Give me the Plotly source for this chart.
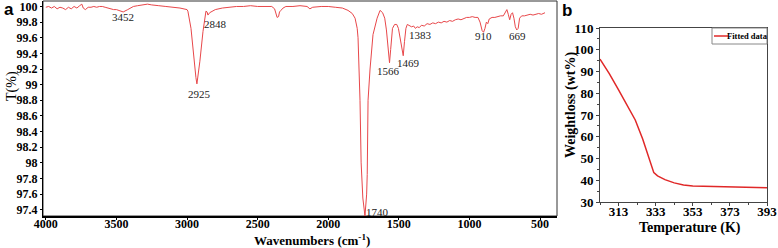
import plotly.graph_objects as go

# ---------------- Panel a: FTIR spectrum ----------------
wavenumber = [4000, 3980, 3960, 3940, 3920, 3900, 3880, 3860, 3840, 3820, 3800, 3780, 3760, 3745, 3735,
              3720, 3700, 3680, 3660, 3640, 3620, 3600, 3580, 3560, 3540, 3520, 3500, 3480, 3452, 3420,
              3400, 3380, 3350, 3320, 3300, 3280, 3250, 3220, 3200, 3150, 3100, 3050, 3000, 2994, 2972,
              2958, 2937, 2930, 2920, 2909, 2887, 2866, 2858, 2852, 2840, 2823, 2800, 2750, 2700, 2650,
              2600, 2550, 2500, 2450, 2400, 2380, 2368, 2362, 2352, 2345, 2335, 2320, 2300, 2250, 2200,
              2150, 2130, 2110, 2050, 2000, 1950, 1900, 1860, 1830, 1810, 1795, 1789, 1782, 1775, 1767,
              1755, 1740, 1728, 1724, 1718, 1704, 1683, 1654, 1633, 1615, 1600, 1588, 1576, 1566, 1558,
              1545, 1530, 1515, 1503, 1490, 1478, 1469, 1460, 1450, 1440, 1425, 1410, 1395, 1383, 1370,
              1355, 1340, 1320, 1300, 1280, 1260, 1240, 1220, 1200, 1180, 1160, 1140, 1120, 1100, 1080,
              1060, 1040, 1020, 1000, 980, 960, 940, 925, 910, 900, 890, 880, 870, 860, 840,
              820, 800, 780, 760, 745, 735, 725, 715, 705, 695, 685, 675, 665, 655, 645,
              630, 610, 590, 570, 550, 530, 510, 490, 465]
transmittance = [99.99, 100.00, 99.98, 100.00, 99.97, 99.99, 99.98, 99.96, 99.99, 99.97, 100.00, 99.98, 100.01, 100.03, 99.98,
                 99.96, 99.99, 99.99, 100.00, 99.99, 100.00, 100.00, 99.99, 99.98, 99.97, 99.96, 99.96, 99.95, 99.93, 99.96,
                 99.98, 100.00, 100.01, 100.02, 100.02, 100.03, 100.02, 100.01, 100.01, 100.00, 99.99, 99.98, 99.96, 99.94, 99.72,
                 99.43, 99.09, 99.01, 99.12, 99.30, 99.68, 99.94, 99.93, 99.89, 99.92, 99.94, 99.96, 99.98, 99.99, 100.00,
                 100.00, 100.01, 100.00, 100.00, 100.00, 99.97, 99.90, 99.86, 99.87, 99.93, 99.95, 99.98, 100.00, 100.00, 100.01,
                 100.00, 99.97, 99.99, 100.00, 100.00, 99.99, 99.98, 99.95, 99.91, 99.85, 99.72, 99.60, 99.20, 98.80, 98.00,
                 97.55, 97.32, 97.60, 97.85, 98.80, 99.20, 99.64, 99.85, 99.95, 99.92, 99.85, 99.70, 99.45, 99.28, 99.45,
                 99.72, 99.77, 99.77, 99.72, 99.60, 99.45, 99.37, 99.55, 99.72, 99.77, 99.76, 99.74, 99.75, 99.72, 99.74,
                 99.73, 99.76, 99.75, 99.78, 99.77, 99.79, 99.78, 99.80, 99.79, 99.81, 99.80, 99.82, 99.81, 99.83, 99.84,
                 99.83, 99.85, 99.86, 99.86, 99.87, 99.86, 99.86, 99.80, 99.69, 99.67, 99.72, 99.80, 99.78, 99.84, 99.86,
                 99.86, 99.87, 99.88, 99.88, 99.92, 99.96, 99.90, 99.83, 99.90, 99.92, 99.85, 99.74, 99.70, 99.72, 99.85,
                 99.88, 99.88, 99.89, 99.90, 99.89, 99.90, 99.91, 99.90, 99.92]

peak_labels = ["3452", "2925", "2848", "1740", "1566", "1469", "1383", "910", "669"]
peak_label_x = [3452, 2915, 2795, 1648, 1576, 1434, 1350, 903, 662]
peak_label_y = [99.86, 98.88, 99.77, 97.37, 99.17, 99.28, 99.63, 99.62, 99.62]

wn_ticks = [4000, 3500, 3000, 2500, 2000, 1500, 1000, 500]
t_ticks = [97.4, 97.6, 97.8, 98.0, 98.2, 98.4, 98.6, 98.8, 99.0, 99.2, 99.4, 99.6, 99.8, 100.0]
t_tick_text = ["97.4", "97.6", "97.8", "98", "98.2", "98.4", "98.6", "98.8", "99", "99.2", "99.4", "99.6", "99.8", "100"]

# ---------------- Panel b: weight loss ----------------
temperature = [303, 308, 313, 318, 322, 326, 329, 332, 334, 338, 343, 348, 353, 363, 373, 383, 393]
weightloss = [95.7, 89.0, 81.5, 74.0, 67.7, 59.0, 51.5, 43.5, 42.0, 40.3, 38.8, 37.8, 37.4, 37.1, 36.9, 36.7, 36.5]
temp_ticks = [313, 333, 353, 373, 393]
wl_ticks = [30, 40, 50, 60, 70, 80, 90, 100, 110]
legend_label = "Fitted data"

SERIF = "Liberation Serif"
W, H = 778, 248
LINE_B = "#e02828"

fig = go.Figure()
fig.add_trace(go.Scatter(x=wavenumber, y=transmittance, mode="lines",
                         line=dict(color="#e8474a", width=1), xaxis="x", yaxis="y",
                         showlegend=False, name="FTIR"))
fig.add_trace(go.Scatter(x=temperature, y=weightloss, mode="lines",
                         line=dict(color=LINE_B, width=1.5), xaxis="x2", yaxis="y2",
                         name=legend_label, showlegend=False))

tickfont = dict(family=SERIF, size=12, color="black", weight="bold")
tickfont_b = dict(family=SERIF, size=13, color="black", weight="bold")

fig.update_layout(
    width=W, height=H,
    margin=dict(l=0, r=0, t=0, b=0, pad=0, autoexpand=False),
    paper_bgcolor="white", plot_bgcolor="white",
    xaxis=dict(domain=[43 / W, 557 / W], range=[4020, 380], tickvals=wn_ticks,
               ticks="outside", ticklen=2, tickcolor="black", tickfont=tickfont,
               ticklabelstandoff=-6, ticklabeloverflow="allow",
               showline=True, linewidth=2, linecolor="black", showgrid=False, zeroline=False,
               anchor="y", automargin=False),
    yaxis=dict(domain=[1 - 216 / H, 1 - 1 / H], range=[97.32, 100.07], tickvals=t_ticks,
               ticktext=t_tick_text, ticks="outside", ticklen=2, tickcolor="black",
               tickfont=tickfont, ticklabeloverflow="allow",
               showline=True, linewidth=1, linecolor="black",
               showgrid=False, zeroline=False, anchor="x", automargin=False),
    xaxis2=dict(domain=[600 / W, 767 / W], range=[303, 393], tickvals=temp_ticks,
                ticks="outside", ticklen=3, tickcolor="#444", tickfont=tickfont_b,
                ticklabelstandoff=-6, ticklabeloverflow="allow",
                showline=True, linewidth=1, linecolor="#444", mirror=True,
                showgrid=False, zeroline=False, anchor="y2", automargin=False,
                minor=dict(ticks="outside", ticklen=2, dtick=10, tick0=303, tickcolor="#444")),
    yaxis2=dict(domain=[1 - 202 / H, 1 - 28 / H], range=[30, 110], tickvals=wl_ticks,
                ticks="outside", ticklen=3, tickcolor="#444", tickfont=tickfont_b,
                ticklabeloverflow="allow",
                showline=True, linewidth=1, linecolor="#444", mirror=True,
                showgrid=False, zeroline=False, anchor="x2", automargin=False,
                minor=dict(ticks="outside", ticklen=2, dtick=5, tick0=30, tickcolor="#444")),
    showlegend=False,
)

# frame of panel a (top / right)
fig.add_shape(type="rect", xref="x domain", yref="y domain", x0=0, x1=1, y0=0, y1=1,
              line=dict(color="#333", width=1), layer="below")

# compact legend box for panel b
fig.add_shape(type="rect", xref="x2 domain", yref="y2 domain",
              x0=(712 - 600) / 167, x1=1, y0=1 - 16 / 174, y1=1,
              line=dict(color="#888", width=1), fillcolor="white", layer="above")
fig.add_shape(type="line", xref="x2 domain", yref="y2 domain",
              x0=(714 - 600) / 167, x1=(728 - 600) / 167, y0=1 - 8 / 174, y1=1 - 8 / 174,
              line=dict(color=LINE_B, width=1.5), layer="above")
fig.add_annotation(x=(747 - 600) / 167, y=1 - 8 / 174, xref="x2 domain", yref="y2 domain",
                   text="<b>" + legend_label + "</b>", showarrow=False,
                   xanchor="center", yanchor="middle",
                   font=dict(family=SERIF, size=8.5, color="black"))

# peak annotations
for txt, px, py in zip(peak_labels, peak_label_x, peak_label_y):
    fig.add_annotation(x=px, y=py, xref="x", yref="y", text=txt, showarrow=False,
                       xanchor="center", yanchor="middle",
                       font=dict(family=SERIF, size=11, color="#222"))

def paper_text(px, py, text, size, family=SERIF, angle=0):
    fig.add_annotation(x=px / W, y=1 - py / H, xref="paper", yref="paper", showarrow=False,
                       text=text, textangle=angle, xanchor="center", yanchor="middle",
                       font=dict(family=family, size=size, color="black"))

# titles and panel letters
paper_text(312, 240, "<b>Wavenumbers (cm<sup>-1</sup>)</b>", 13)
paper_text(12, 86, "T(%)", 14, angle=-90)
paper_text(690, 228, "<b>Temperature (K)</b>", 14)
paper_text(571, 105, "<b>Weightloss (wt%)</b>", 14, angle=-90)
paper_text(9, 10, "<b>a</b>", 17, family="Liberation Sans")
paper_text(567, 11, "<b>b</b>", 17, family="Liberation Sans")

fig.write_html("out.html", config={"displayModeBar": False},
               post_script="document.body.style.margin='0';document.body.style.padding='0';")
